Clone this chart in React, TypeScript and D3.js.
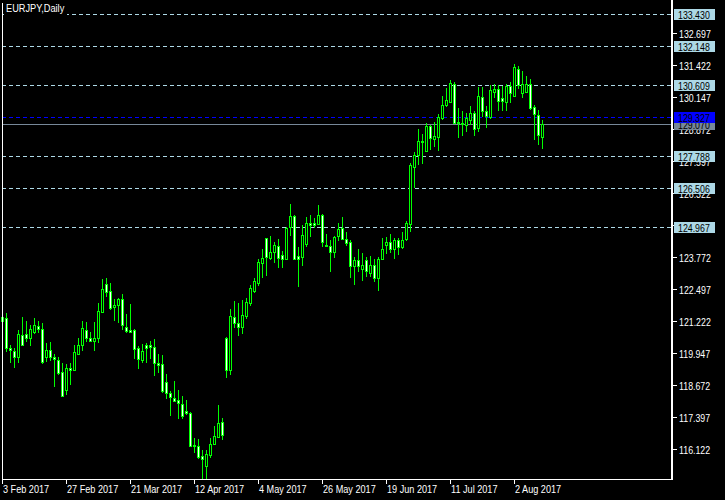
import React from "react";
import * as d3 from "d3";

const title = "EURJPY,Daily";

const opens = [121.37,121.308,120.125,120.005,119.779,120.630,120.683,120.510,120.776,121.002,120.869,119.753,120.045,119.753,119.646,119.155,118.477,119.354,119.248,119.912,120.231,120.829,120.510,120.417,120.510,121.574,122.664,122.398,121.746,121.826,122.079,120.976,120.843,120.843,120.112,119.646,120.244,120.258,120.165,119.540,119.474,118.769,118.330,118.158,118.051,117.892,117.626,117.560,116.257,116.231,115.819,115.433,115.858,116.297,116.589,117.174,120.537,119.248,121.348,121.108,120.976,121.414,121.906,122.411,122.730,123.527,124.498,123.727,123.966,124.206,123.820,123.687,124.936,125.388,123.794,123.767,124.272,125.096,125.096,125.069,125.428,124.232,124.206,123.966,124.591,124.896,124.458,124.338,123.408,123.634,123.275,123.634,123.129,123.421,122.930,123.660,124.232,124.338,124.086,124.431,124.139,124.458,125.069,127.356,127.821,128.379,127.993,128.977,128.445,128.552,129.283,129.814,129.947,130.638,129.150,129.083,129.017,129.216,129.482,128.884,130.133,129.588,129.349,130.319,130.452,130.080,129.947,130.572,130.186,131.237,130.280,130.346,130.638,129.721,129.416,128.552];
const highs = [121.50,121.507,120.245,120.112,120.843,121.348,121.202,121.042,121.308,121.202,121.108,120.311,120.364,119.912,119.753,119.540,119.487,119.514,120.245,120.510,121.202,121.162,120.763,121.175,121.933,122.876,122.916,122.703,122.065,122.119,122.278,121.481,121.879,120.869,120.205,120.284,120.337,120.404,120.484,119.886,119.846,119.088,118.410,118.809,118.450,118.211,118.078,117.586,116.563,116.496,116.058,116.058,116.536,117.015,117.852,117.334,120.577,121.680,121.999,121.932,122.039,122.119,122.637,122.903,123.673,124.059,124.524,124.591,124.338,124.471,123.993,124.936,125.867,125.428,124.139,125.029,125.335,125.415,125.322,125.827,125.468,124.671,124.431,124.591,125.096,125.335,124.750,124.431,123.740,124.073,123.900,123.740,123.794,123.660,123.740,124.498,124.538,124.671,124.498,124.498,124.750,125.189,127.488,127.927,128.857,128.658,129.083,129.017,129.150,129.442,130.173,130.479,130.811,130.718,129.681,129.575,129.482,129.774,129.575,130.545,130.532,129.788,130.612,130.665,130.612,130.572,130.665,130.718,131.449,131.369,131.170,130.971,130.851,129.814,129.615,129.216];
const lows = [121.00,119.979,119.540,119.354,119.540,120.205,120.377,120.205,120.683,120.710,119.487,119.580,119.620,118.583,119.048,118.184,118.251,118.650,119.221,119.880,120.019,120.377,120.377,120.019,120.311,121.507,122.145,121.640,121.215,121.108,120.843,120.710,120.710,119.673,119.314,119.540,119.540,119.673,119.008,119.115,118.344,118.118,117.413,117.985,117.320,117.294,117.453,116.217,115.951,115.699,114.850,114.880,115.752,116.257,116.550,116.457,118.942,119.048,120.909,120.603,120.683,121.281,121.813,122.331,122.597,122.929,123.009,123.634,123.501,123.328,123.328,123.650,124.591,123.634,122.571,123.395,124.139,124.564,124.896,125.016,124.166,124.192,123.169,123.727,124.405,124.431,124.192,122.930,122.637,123.169,122.810,122.970,122.943,122.770,122.411,123.634,123.873,123.926,123.687,123.833,124.059,124.405,124.750,126.518,127.422,127.449,127.954,128.020,128.153,127.980,129.216,129.748,129.881,129.057,128.512,128.592,128.751,129.017,128.592,128.724,129.349,128.884,129.256,130.080,129.575,129.588,129.575,129.881,130.120,130.452,130.080,130.280,129.615,128.419,128.220,128.060];
const closes = [121.21,120.112,120.045,119.753,120.670,120.258,120.537,120.869,121.042,120.869,119.580,120.045,119.779,119.673,119.141,118.211,119.327,119.274,119.965,120.245,120.909,120.510,120.417,120.524,121.600,122.477,122.371,121.733,121.839,122.065,121.029,120.816,120.776,120.098,119.673,120.005,120.138,120.178,119.540,119.460,118.424,118.344,118.184,118.025,117.945,117.427,117.546,116.231,116.231,115.792,115.713,115.925,116.324,116.616,117.161,116.669,119.274,121.387,121.108,120.976,121.427,121.946,122.504,122.796,123.554,123.700,123.740,123.966,124.232,123.700,123.687,124.896,125.388,123.660,123.687,124.617,125.096,125.016,125.016,125.415,124.338,124.206,123.966,124.564,124.857,124.471,124.325,123.408,123.634,123.408,123.421,123.209,123.421,122.930,123.660,124.073,124.352,124.086,124.431,124.139,124.431,125.096,127.409,127.821,128.379,128.352,128.977,128.512,128.578,129.336,129.814,130.000,130.705,129.083,129.083,129.044,129.283,129.482,128.857,130.173,129.575,129.363,130.399,130.452,129.974,129.987,130.572,130.280,131.343,130.612,130.638,130.638,129.681,129.442,128.618,129.070];

const dateTickBars = [0, 16, 32, 48, 64, 80, 96, 112, 128];
const dateTickLabels = ["3 Feb 2017", "27 Feb 2017", "21 Mar 2017", "12 Apr 2017", "4 May 2017", "26 May 2017", "19 Jun 2017", "11 Jul 2017", "2 Aug 2017"];

const priceTicks = [132.697, 131.422, 130.147, 128.872, 127.597, 126.322, 125.047, 123.772, 122.497, 121.222, 119.947, 118.672, 117.397, 116.122];

const lightLevels = [133.430, 132.148, 130.609, 127.788, 126.506, 124.967];
const blueLevel = 129.327;
const bidLevel = 129.070;

const W = 725;
const H = 500;
const plotLeft = 2;
const plotRight = 672;
const plotBottom = 479;

const FONT = "'Liberation Sans', Arial, sans-serif";
const LIME = "#00ff00";
const LIGHT = "#add8e6";

function NarrowText(props: { x: number; y: number; fill: string; sx?: number; children: React.ReactNode }) {
  const sx = props.sx ?? 0.8;
  return (
    <text transform={`translate(${props.x},${props.y}) scale(${sx},1)`} fill={props.fill} fontSize={11} fontFamily={FONT}>
      {props.children}
    </text>
  );
}

export default function App() {
  const x = d3.scaleLinear().domain([0, 1]).range([2.5, 6.5]);
  const y = d3.scaleLinear().domain([116.122, 132.697]).range([448.6, 32.7]);

  const fmt = (v: number) => v.toFixed(3);

  const labelBox = (v: number, fill: string, key: string) => {
    const yy = Math.round(y(v));
    return (
      <g key={key}>
        <rect x={674} y={yy - 5} width={41} height={11} fill={fill} shapeRendering="crispEdges" />
        <NarrowText x={678} y={yy + 4.5} fill="#000">{fmt(v)}</NarrowText>
      </g>
    );
  };

  return (
    <svg width={W} height={H} style={{ position: "fixed", left: 0, top: 0, background: "#000" }}>
      <rect x={0} y={0} width={W} height={H} fill="#000" />
      <g shapeRendering="crispEdges">
        {lightLevels.map((v, i) => (
          <line key={"lv" + i} x1={plotLeft} x2={plotRight} y1={Math.round(y(v)) + 0.5} y2={Math.round(y(v)) + 0.5} stroke={LIGHT} strokeDasharray="4,3" />
        ))}
        <line x1={plotLeft} x2={plotRight} y1={Math.round(y(blueLevel)) + 0.5} y2={Math.round(y(blueLevel)) + 0.5} stroke="#0000ff" strokeDasharray="4,3" />
        <line x1={plotLeft} x2={plotRight} y1={Math.round(y(bidLevel)) + 0.5} y2={Math.round(y(bidLevel)) + 0.5} stroke="#778899" />
      </g>
      <g shapeRendering="crispEdges">
        {opens.map((o, i) => {
          const c = closes[i];
          const cx = x(i);
          const top = y(Math.max(o, c));
          const bot = y(Math.min(o, c));
          const bull = c >= o;
          return (
            <g key={"c" + i}>
              <line x1={cx} x2={cx} y1={y(highs[i])} y2={y(lows[i])} stroke={LIME} />
              <rect x={cx - 1} y={Math.round(top) + 0.5} width={2} height={Math.max(0, Math.round(bot) - Math.round(top))} fill={bull ? "#000" : "#fff"} stroke={LIME} />
            </g>
          );
        })}
      </g>
      <rect x={0} y={plotBottom} width={W} height={H - plotBottom} fill="#000" />
      <rect x={plotRight} y={0} width={W - plotRight} height={H} fill="#000" />
      <g shapeRendering="crispEdges">
        <line x1={2.5} x2={2.5} y1={3} y2={plotBottom} stroke="#fff" />
        <line x1={672} x2={672} y1={0} y2={plotBottom} stroke="#fff" strokeWidth={2} />
        <line x1={2} x2={673} y1={plotBottom + 0.5} y2={plotBottom + 0.5} stroke="#fff" />
        {dateTickBars.map((b, i) => (
          <line key={"dt" + i} x1={Math.floor(x(b)) + 0.5} x2={Math.floor(x(b)) + 0.5} y1={plotBottom} y2={plotBottom + 5} stroke="#fff" />
        ))}
        {priceTicks.map((v, i) => (
          <line key={"pt" + i} x1={672} x2={677} y1={Math.round(y(v)) + 0.5} y2={Math.round(y(v)) + 0.5} stroke="#fff" />
        ))}
      </g>
      {dateTickLabels.map((t, i) => (
        <NarrowText key={"dl" + i} x={Math.floor(x(dateTickBars[i])) + 1} y={493} fill="#fff" sx={0.83}>{t}</NarrowText>
      ))}
      {priceTicks.map((v, i) => (
        <NarrowText key={"pl" + i} x={679} y={Math.round(y(v)) + 4.5} fill="#fff">{fmt(v)}</NarrowText>
      ))}
      {lightLevels.map((v, i) => labelBox(v, LIGHT, "lb" + i))}
      {labelBox(bidLevel, "#778899", "bid")}
      {labelBox(blueLevel, "#0000ff", "blue")}
      <rect x={4} y={2} width={63} height={13} fill="#000" />
      <NarrowText x={6} y={12} fill="#fff" sx={0.84}>{title}</NarrowText>
    </svg>
  );
}
